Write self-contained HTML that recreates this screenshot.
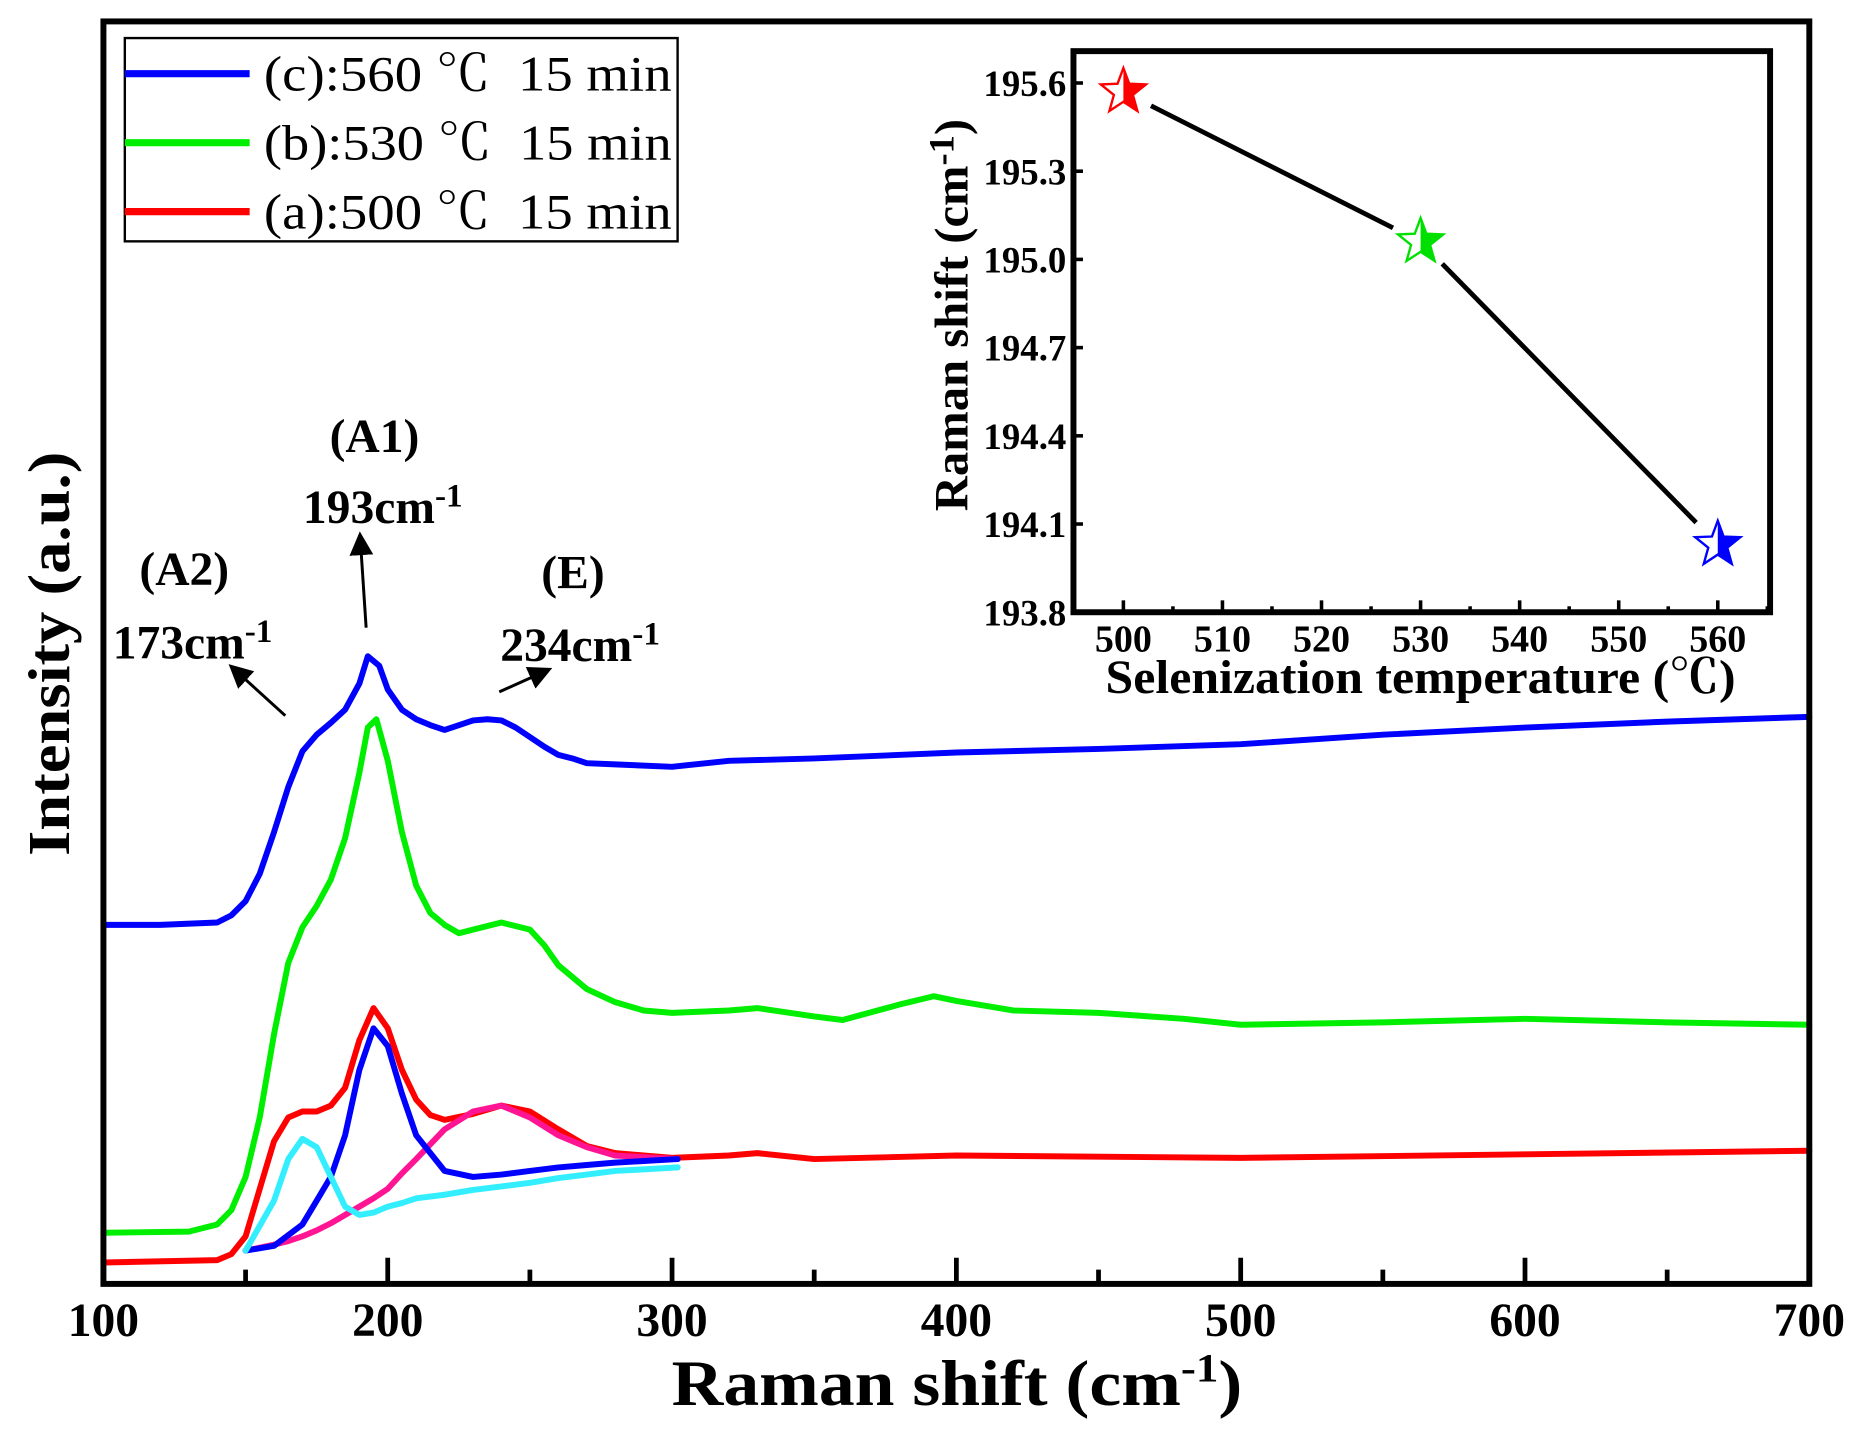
<!DOCTYPE html>
<html><head><meta charset="utf-8"><style>
html,body{margin:0;padding:0;background:#fff;}
svg{display:block;font-family:"Liberation Serif","Noto Serif CJK SC",serif;}
</style></head><body>
<svg id="chart" width="1864" height="1445" viewBox="0 0 1568 1215.5" xmlns="http://www.w3.org/2000/svg">
<rect x="0" y="0" width="1568" height="1215.5" fill="#fff"/>
<g id="main"></g>
<g id="inset"></g>
</svg>
<script>
// ---- main chart data ----
const xTicks = [100,200,300,400,500,600,700];
const cX = [100,120,140,145,150,155,160,165,170,175,180,185,190,193,197,200,205,210,215,220,225,230,235,240,245,250,255,260,265,270,280,300,320,350,400,450,500,550,600,650,700];
const cY = [302,302,304,310,322,345,380,418,448,462,472,483,505,528,520,500,483,475,470,466,470,474,475,474,468,460,452,445,442,438,437,435,440,442,447,450,454,462,468,473,477];
const bX = [100,130,140,145,150,155,160,165,170,175,180,185,190,193,196,200,205,210,215,220,225,230,240,250,255,260,270,280,290,300,320,330,350,360,380,392,400,420,450,480,500,550,600,650,700];
const bY = [43,44,50,62,90,140,210,270,300,318,340,375,430,468,475,440,380,335,312,302,295,298,304,298,285,268,248,237,230,228,230,232,225,222,235,242,238,230,228,223,218,220,223,220,218];
const aX = [100,140,145,150,155,160,165,170,175,180,185,190,195,200,205,210,215,220,230,240,250,260,270,280,300,320,330,350,400,500,600,700];
const aY = [18,20,25,40,80,120,140,145,145,150,165,205,232,215,180,155,142,138,143,150,145,130,116,110,106,108,110,105,108,106,109,112];
const fitX = [150,160,165,170,175,180,185,190,195,200,205,210,220,230,240,250,260,270,280,302];
const fitCyan = [28,70,105,122,115,90,65,58,60,65,68,72,75,79,82,85,89,92,95,98];
const fitBlue = [28,32,41,50,70,90,125,180,215,200,160,125,95,90,92,95,98,100,102,105];
const fitPink = [28,33,36,40,45,51,58,65,72,80,93,105,130,145,150,140,125,115,108,105];
// ---- inset data ----
const insTemps = [500,530,560];
const insShift = [195.57,195.06,194.03];
const insXTicks = [500,510,520,530,540,550,560];
const insYTicks = [193.8,194.1,194.4,194.7,195.0,195.3,195.6];
const insColors = ['#ff0000','#00e000','#0000ff'];

const NS='http://www.w3.org/2000/svg';
function mk(parent,tag,attrs,text){const e=document.createElementNS(NS,tag);for(const k in attrs)e.setAttribute(k,attrs[k]);if(text!==undefined)e.textContent=text;parent.appendChild(e);return e;}
const L=87,R=1522,T=18,B=1080;
const sx=v=>L+(v-100)/600*(R-L);
const sy=v=>B-v;
const main=document.getElementById('main');
function line(xs,ys,color,name,w){
  let d='';for(let i=0;i<xs.length;i++)d+=(i?'L':'M')+sx(xs[i]).toFixed(1)+','+sy(ys[i]).toFixed(1);
  const p=mk(main,'path',{d:d,fill:'none',stroke:color,'stroke-width':w||5,'stroke-linejoin':'round','stroke-linecap':'round'});
  
  
}
line(cX,cY,'#0000ff','series-c-560');
line(bX,bY,'#00ee00','series-b-530');
line(aX,aY,'#ff0000','series-a-500');
line(fitX,fitPink,'#ff1493','fit-e-peak');
line(fitX,fitBlue,'#0000ff','fit-a1-peak');
line(fitX,fitCyan,'#33eeff','fit-a2-peak');
const fr=mk(main,'rect',{x:L,y:T,width:R-L,height:B-T,fill:'none',stroke:'#000','stroke-width':5});

for(let v=150;v<700;v+=50){
  const major=(v%100===0);
  const t=mk(main,'line',{x1:sx(v),x2:sx(v),y1:B,y2:B-(major?22:12),stroke:'#000','stroke-width':4});
  
}
xTicks.forEach(v=>{
  const t=mk(main,'text',{x:sx(v),y:1124,'font-size':40,'font-weight':'bold','text-anchor':'middle'},String(v));
  
});
const xt=mk(main,'text',{x:565,y:1182,'font-size':54,'font-weight':'bold',textLength:480,lengthAdjust:'spacingAndGlyphs'});

xt.innerHTML='Raman shift (cm<tspan dy="-20" font-size="34">-1</tspan><tspan dy="20">)</tspan>';
const yt=mk(main,'text',{x:0,y:0,'font-size':50,'font-weight':'bold','text-anchor':'middle',textLength:340,lengthAdjust:'spacingAndGlyphs',transform:'translate(58,550) rotate(-90)'},'Intensity (a.u.)');

function ann(x,y,txt,name,sup){
  const t=mk(main,'text',{x:x,y:y,'font-size':40,'font-weight':'bold','text-anchor':'middle'});
  
  t.innerHTML=txt+(sup?'<tspan dy="-14" font-size="28">-1</tspan>':'');
}
ann(315,380,'(A1)','label-a1');ann(322,440,'193cm','label-193',1);
ann(155,492,'(A2)','label-a2');ann(162,554,'173cm','label-173',1);
ann(482,495,'(E)','label-e');ann(488,556,'234cm','label-234',1);
mk(main,'defs',{}).innerHTML='<marker id="ah" markerWidth="8" markerHeight="8" refX="6" refY="4" orient="auto"><path d="M0,0 L8,4 L0,8 Z" fill="#000"/></marker>';
[[308,528,303,452,'arrow-a1'],[240,602,196,562,'arrow-a2'],[420,582,460,564,'arrow-e']].forEach(a=>{
  const l=mk(main,'line',{x1:a[0],y1:a[1],x2:a[2],y2:a[3],stroke:'#000','stroke-width':2.5,'marker-end':'url(#ah)'});
  
});
const lg=mk(main,'g',{});
mk(lg,'rect',{x:105,y:32,width:465,height:171,fill:'#fff',stroke:'#000','stroke-width':2});
[['#0000ff','(c):560 ℃  15 min',62],['#00ee00','(b):530 ℃  15 min',120],['#ff0000','(a):500 ℃  15 min',178]].forEach((e,i)=>{
  const g=mk(lg,'g',{});
  mk(g,'line',{x1:105,x2:210,y1:e[2],y2:e[2],stroke:e[0],'stroke-width':6});
  const t=mk(g,'text',{x:222,y:e[2]+14,'font-size':42,textLength:343,lengthAdjust:'spacingAndGlyphs'},e[1]);t.style.whiteSpace='pre';
});
// ---- inset ----
const ins=document.getElementById('inset');

const IL=903,IR=1489,IT=43,IB=515;
const ix=v=>945+(v-500)/60*(1445-945);
const iy=v=>IB-(v-193.8)/0.3*74.2;
mk(ins,'rect',{x:IL,y:IT,width:IR-IL,height:IB-IT,fill:'#fff',stroke:'#000','stroke-width':5});
for(let v=495;v<=565;v+=5){const major=(v%10===0);
  const t=mk(ins,'line',{x1:ix(v),x2:ix(v),y1:IB,y2:IB-(major?10:5),stroke:'#000','stroke-width':3});
  }
insYTicks.forEach(v=>{
  const t=mk(ins,'line',{x1:IL,x2:IL+8,y1:iy(v),y2:iy(v),stroke:'#000','stroke-width':3});
  
  const l=mk(ins,'text',{x:IL-6,y:iy(v)+11,'font-size':31,'font-weight':'bold','text-anchor':'end'},v.toFixed(1));
  
});
insXTicks.forEach(v=>{
  const l=mk(ins,'text',{x:ix(v),y:548,'font-size':32,'font-weight':'bold','text-anchor':'middle'},String(v));
  
});
const it=mk(ins,'text',{x:930,y:583,'font-size':40,'font-weight':'bold',textLength:530,lengthAdjust:'spacingAndGlyphs'},'Selenization temperature (℃)');

const iyt=mk(ins,'text',{x:0,y:0,'font-size':40,'font-weight':'bold','text-anchor':'middle',textLength:330,lengthAdjust:'spacingAndGlyphs',transform:'translate(814,265) rotate(-90)'});

iyt.innerHTML='Raman shift (cm<tspan dy="-12" font-size="30">-1</tspan><tspan dy="12">)</tspan>';
for(let i=0;i<insTemps.length-1;i++){
  const x1=ix(insTemps[i]),y1=iy(insShift[i]),x2=ix(insTemps[i+1]),y2=iy(insShift[i+1]);
  const dx=x2-x1,dy=y2-y1,len=Math.hypot(dx,dy),g=26;
  const s=mk(ins,'line',{x1:x1+dx/len*g,y1:y1+dy/len*g,x2:x2-dx/len*g,y2:y2-dy/len*g,stroke:'#000','stroke-width':4});
  
}
function starPts(cx,cy,r){let p=[];for(let k=0;k<10;k++){const a=-Math.PI/2+k*Math.PI/5;const rr=k%2?r*0.42:r;p.push((cx+rr*Math.cos(a)).toFixed(1)+','+(cy+rr*Math.sin(a)).toFixed(1));}return p.join(' ');}
const cd=mk(ins,'defs',{});
insTemps.forEach((t,i)=>{
  const cx=ix(t),cy=iy(insShift[i]);
  const clip=mk(cd,'clipPath',{id:'rh'+i});mk(clip,'rect',{x:cx,y:cy-30,width:30,height:60});
  const g=mk(ins,'g',{});
  
  
  mk(g,'polygon',{points:starPts(cx,cy,20),fill:'#fff',stroke:insColors[i],'stroke-width':2});
  mk(g,'polygon',{points:starPts(cx,cy,20),fill:insColors[i],'clip-path':'url(#rh'+i+')'});
});
</script>
</body></html>
